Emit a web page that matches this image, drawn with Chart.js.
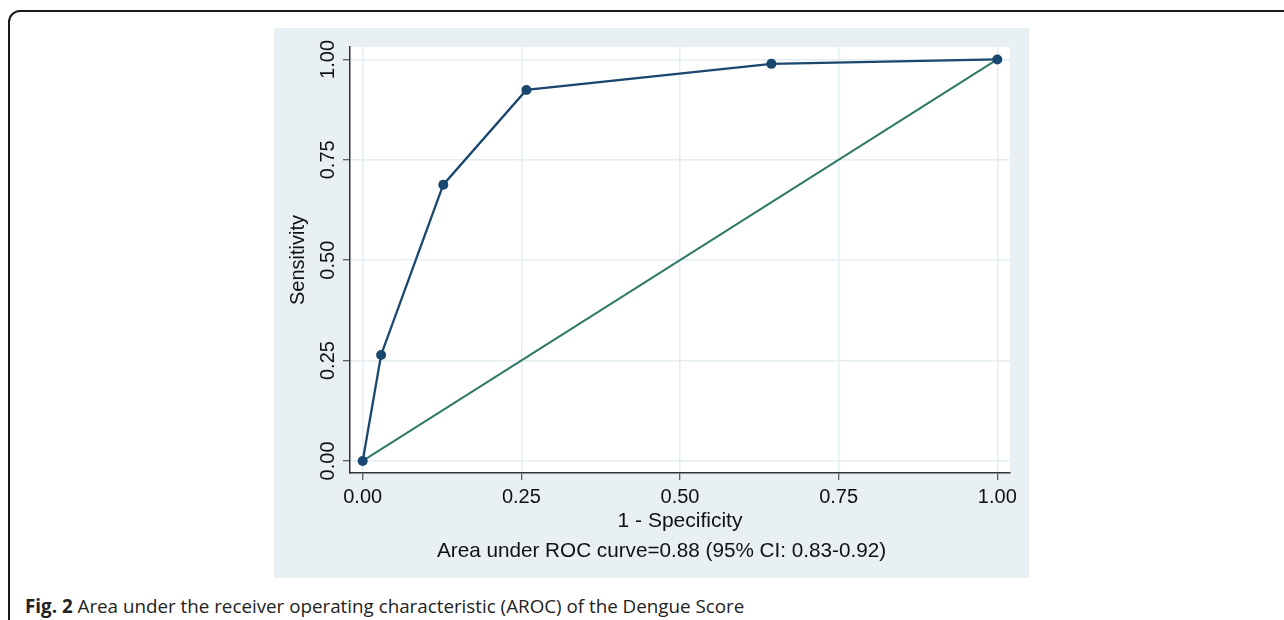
<!DOCTYPE html>
<html>
<head>
<meta charset="utf-8">
<script src="https://cdn.jsdelivr.net/npm/chart.js@4/dist/chart.umd.min.js"></script>
<style>
    body { margin: 0; background: #fff; }
    #page { position: relative; width: 1284px; height: 620px; overflow: hidden; }
    #frame {
        position: absolute; left: 8px; top: 10px; width: 1400px; height: 700px;
        border: 2px solid #1a1a1a; border-radius: 12px;
    }
    #panel {
        position: absolute; left: 274px; top: 28px; width: 755px; height: 550px;
        background: #e8f0f3;
    }
    #roc-chart { display: block; }
    #note {
        position: absolute; left: 437px; top: 538px; line-height: 24px;
        font-family: "Liberation Sans", Arial, sans-serif; font-size: 20.7px; color: #111;
        white-space: nowrap;
    }
    #caption {
        position: absolute; left: 25px; top: 593px;
        font-family: "Open Sans", sans-serif; font-size: 18.8px; color: #222;
        white-space: nowrap;
    }
</style>
</head>
<body>
<div id="page">
    <div id="frame"></div>
    <div id="panel"><canvas id="roc-chart" width="755" height="550"></canvas></div>
    <div id="note"></div>
    <div id="caption"><b>Fig. 2</b> Area under the receiver operating characteristic (AROC) of the Dengue Score</div>
</div>
<script>
// ROC points (1 - specificity, sensitivity)
const fpr = [0, 0.029, 0.127, 0.258, 0.644, 1];
const tpr = [0, 0.264, 0.688, 0.924, 0.989, 1];
// reference diagonal
const refX = [0, 1];
const refY = [0, 1];
const tickValues = [0, 0.25, 0.5, 0.75, 1];
const xTitle = "1 - Specificity";
const noteText = "Area under ROC curve=0.88 (95% CI: 0.83-0.92)";
const yTitle = "Sensitivity";

const navy = "#1a476f";
const green = "#2f7a66";
const gridColor = "#e4edf1";
const axisColor = "#333";
const textColor = "#111";
const fontFamily = "'Liberation Sans', Arial, sans-serif";

document.getElementById("note").textContent = noteText;

const roc_points = fpr.map((x, i) => ({ x: x, y: tpr[i] }));
const ref_points = refX.map((x, i) => ({ x: x, y: refY[i] }));

// white plot region + rotated y tick labels
const plotBg = {
    id: "plotBg",
    beforeDraw(chart) {
        const { ctx, chartArea } = chart;
        ctx.save();
        ctx.fillStyle = "#fff";
        ctx.fillRect(chartArea.left, chartArea.top, chartArea.right - chartArea.left, chartArea.bottom - chartArea.top);
        ctx.restore();
    },
    afterDraw(chart) {
        const { ctx, chartArea } = chart;
        const yScale = chart.scales.y;
        ctx.save();
        ctx.fillStyle = textColor;
        ctx.font = "20px " + fontFamily;
        ctx.textAlign = "center";
        ctx.textBaseline = "middle";
        tickValues.forEach((v) => {
            const py = yScale.getPixelForValue(v);
            ctx.save();
            ctx.translate(chartArea.left - 22, py);
            ctx.rotate(-Math.PI / 2);
            ctx.fillText(v.toFixed(2), 0, 0);
            ctx.restore();
        });
        ctx.restore();
    },
};

const setTicks = (scale) => {
    scale.ticks = tickValues.map((v) => ({ value: v }));
};

new Chart(document.getElementById("roc-chart"), {
    type: "scatter",
    data: {
        datasets: [
            {
                label: "ROC",
                data: roc_points,
                showLine: true,
                borderColor: navy,
                backgroundColor: navy,
                borderWidth: 2.3,
                pointRadius: 5,
                pointHoverRadius: 5,
                pointBorderWidth: 0,
                order: 1,
            },
            {
                label: "Reference",
                data: ref_points,
                showLine: true,
                borderColor: green,
                borderWidth: 2,
                pointRadius: 0,
                order: 2,
            },
        ],
    },
    options: {
        responsive: false,
        animation: false,
        devicePixelRatio: 1,
        layout: { padding: { top: 19, right: 19, left: 0, bottom: 0 } },
        plugins: {
            legend: { display: false },
            tooltip: { enabled: false },
        },
        scales: {
            x: {
                type: "linear",
                min: -0.02,
                max: 1.02,
                afterBuildTicks: setTicks,
                afterFit: (scale) => { scale.height = 105; },
                grid: {
                    color: gridColor,
                    lineWidth: 1.5,
                    tickColor: axisColor,
                    tickLength: 7,
                    tickWidth: 1,
                },
                border: { display: true, color: axisColor, width: 1.5 },
                ticks: {
                    padding: 5,
                    color: textColor,
                    font: { family: fontFamily, size: 20 },
                    maxRotation: 0,
                    callback: (v) => Number(v).toFixed(2),
                },
                title: {
                    display: true,
                    text: xTitle,
                    color: textColor,
                    font: { family: fontFamily, size: 21 },
                    padding: { top: 0, bottom: 44 },
                },
            },
            y: {
                type: "linear",
                min: -0.03,
                max: 1.031,
                afterBuildTicks: setTicks,
                afterFit: (scale) => { scale.width = 76; },
                grid: {
                    color: gridColor,
                    lineWidth: 1.5,
                    tickColor: axisColor,
                    tickLength: 7,
                    tickWidth: 1,
                },
                border: { display: true, color: axisColor, width: 1.5 },
                ticks: { display: false },
                title: {
                    display: true,
                    text: yTitle,
                    color: textColor,
                    font: { family: fontFamily, size: 20 },
                    padding: { top: 12, bottom: 0 },
                },
            },
        },
    },
    plugins: [plotBg],
});
</script>
</body>
</html>
